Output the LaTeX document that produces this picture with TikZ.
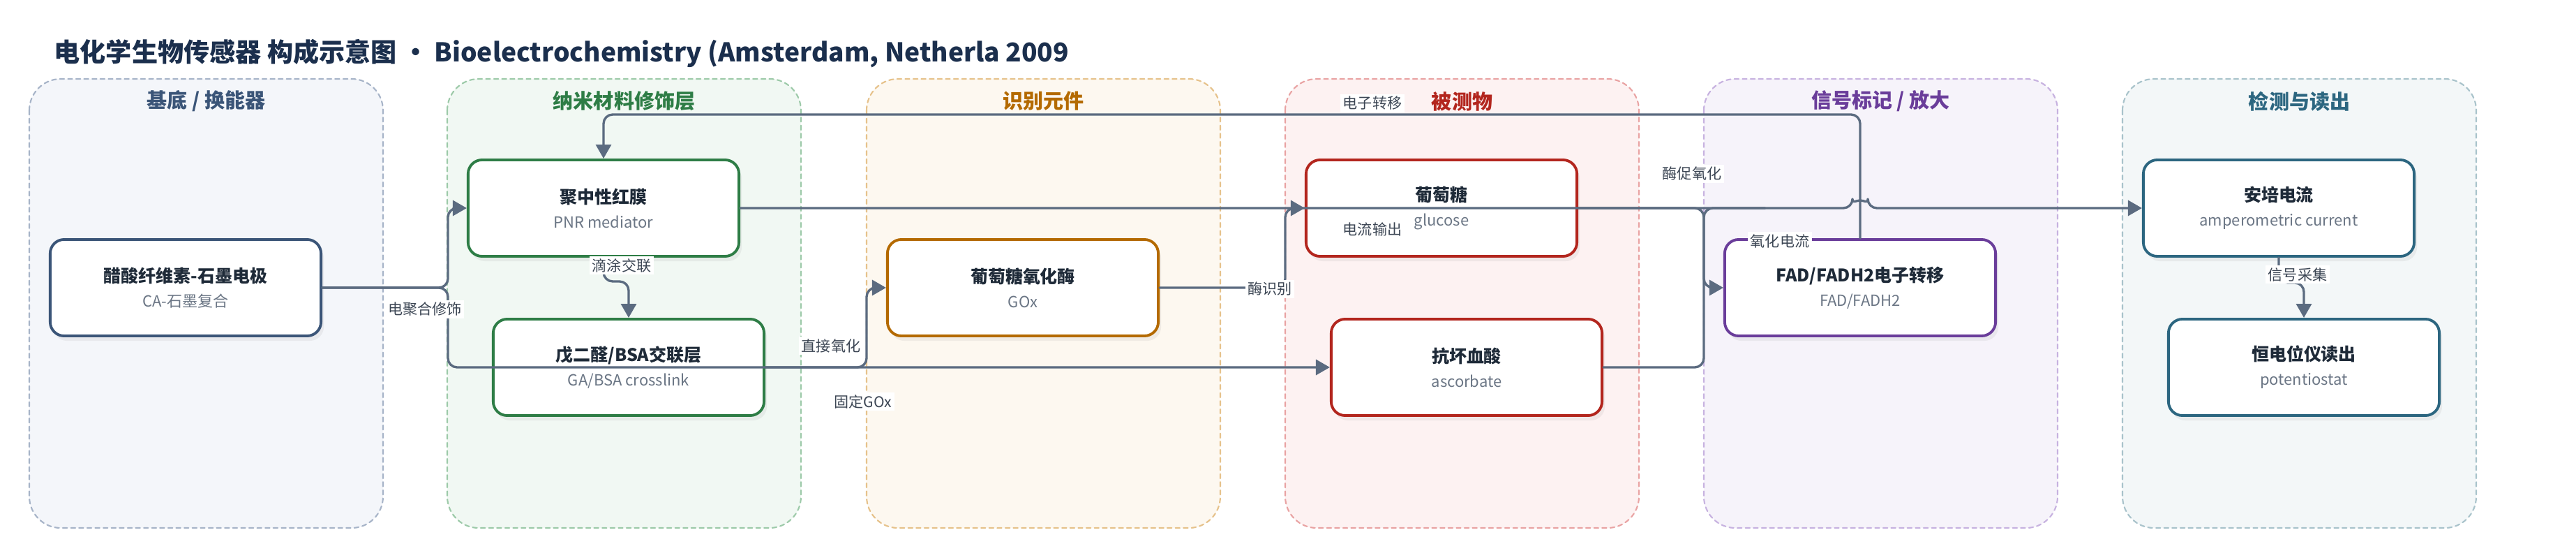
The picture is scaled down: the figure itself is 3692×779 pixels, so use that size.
\documentclass[tikz,border=0pt]{standalone}
\usepackage{fontspec}
\setmainfont{Noto Sans CJK SC}
\usetikzlibrary{arrows.meta,calc,shadows}

\definecolor{flowcol}{HTML}{5B6B80}
\definecolor{inkcol}{HTML}{1E2A38}
\definecolor{subcol}{HTML}{6B7685}
\definecolor{labcol}{HTML}{3C4654}
\definecolor{titlecol}{HTML}{1B2F4D}

\definecolor{baseFill}{HTML}{F4F6FA}\definecolor{baseLine}{HTML}{A7B4C8}\definecolor{baseHead}{HTML}{3B5578}
\definecolor{nanoFill}{HTML}{F1F8F3}\definecolor{nanoLine}{HTML}{9DCAA9}\definecolor{nanoHead}{HTML}{2E7D46}
\definecolor{recFill}{HTML}{FDF8F0}\definecolor{recLine}{HTML}{E6C28B}\definecolor{recHead}{HTML}{B46A00}
\definecolor{anaFill}{HTML}{FDF2F2}\definecolor{anaLine}{HTML}{E9A3A3}\definecolor{anaHead}{HTML}{B3261E}
\definecolor{sigFill}{HTML}{F6F3FA}\definecolor{sigLine}{HTML}{C7B2E0}\definecolor{sigHead}{HTML}{6A3D9A}
\definecolor{detFill}{HTML}{F3F7F8}\definecolor{detLine}{HTML}{A9C3CB}\definecolor{detHead}{HTML}{2C6680}

\newcommand{\duo}[2]{{\fontsize{7.1}{10}\selectfont\bfseries\color{inkcol}#1}\\{\color{subcol}#2}}

\tikzset{
  unit/.style={draw=#1, line width=1.1pt, fill=white, rounded corners=0.2cm,
    minimum width=3.88cm, minimum height=1.38cm, align=center, inner sep=0pt,
    font=\fontsize{6.26}{10}\selectfont,
    drop shadow={opacity=0.10, shadow xshift=0.04cm, shadow yshift=-0.07cm}},
  flow/.style={draw=flowcol, line width=0.95pt, rounded corners=0.13cm,
    -{Triangle[length=0.2cm,width=0.22cm]}},
  tag/.style={fill=white, inner sep=1pt, text=labcol, font=\fontsize{6}{8}\selectfont}
}

\begin{document}
\begin{tikzpicture}[x=0.01cm, y=-0.01cm, line cap=round, line join=round]

% ----------------------------
% CANVAS
% ----------------------------
\useasboundingbox (0,0) rectangle (3692,779);
\fill[white] (0,0) rectangle (3692,779);

\node[anchor=west, inner sep=0pt, text=titlecol, font=\fontsize{10.55}{13}\selectfont\bfseries] (head) at (77,77)
  {电化学生物传感器 构成示意图 • Bioelectrochemistry (Amsterdam, Netherla 2009};

% ----------------------------
% PANELS
% ----------------------------
\foreach \px/\nm/\ttl in {42/base/{基底 / 换能器}, 641/nano/{纳米材料修饰层}, 1242/rec/{识别元件},
                          1842/ana/{被测物}, 2442/sig/{信号标记 / 放大}, 3042/det/{检测与读出}} {
  \draw[draw=\nm Line, fill=\nm Fill, line width=0.6pt, dash pattern=on 1.8pt off 1.5pt,
        rounded corners=0.45cm] (\px,113) rectangle ++(507,643);
  \node[text=\nm Head, font=\fontsize{8.25}{10}\selectfont\bfseries] at (\px+253.5,145) {\ttl};
}

% ----------------------------
% COMPONENTS
% ----------------------------
\node[unit=baseHead] (ca)  at (266,412)  {\duo{醋酸纤维素-石墨电极}{CA-石墨复合}};
\node[unit=nanoHead] (pnr) at (865,298)  {\duo{聚中性红膜}{PNR mediator}};
\node[unit=nanoHead] (ga)  at (901,526)  {\duo{戊二醛/BSA交联层}{GA/BSA crosslink}};
\node[unit=recHead]  (gox) at (1466,412) {\duo{葡萄糖氧化酶}{GOx}};
\node[unit=anaHead]  (glu) at (2066,298) {\duo{葡萄糖}{glucose}};
\node[unit=anaHead]  (asc) at (2102,526) {\duo{抗坏血酸}{ascorbate}};
\node[unit=sigHead]  (fad) at (2666,412) {\duo{FAD/FADH2电子转移}{FAD/FADH2}};
\node[unit=detHead]  (amp) at (3266,298) {\duo{安培电流}{amperometric current}};
\node[unit=detHead]  (pot) at (3302,526) {\duo{恒电位仪读出}{potentiostat}};

% ----------------------------
% CONNECTORS
% ----------------------------
\coordinate (split) at (642,412);
\coordinate (merge) at (2442,298);

\draw[flow] (ca.east) -- (split) |- (pnr.west);
\draw[flow] (ca.east) -- (split) |- (asc.west);
\draw[flow] (pnr.south) -- (865,403) -| (ga.north);
\draw[flow] (ga.east) -- (1242,526) |- (gox.west);
\draw[flow] (gox.east) -- (1842,412) |- (glu.west);

% current line with a hop over the FAD riser
\draw[flow] (pnr.east) -- (2655,298) arc[start angle=180, end angle=0, radius=0.11cm] -- (amp.west);
\draw[flow] (fad.north) -- (2666,164) -| (pnr.north);
\draw[flow] (glu.east) -- (merge) |- (fad.west);
\draw[flow,-] (asc.east) -- (2442,526) -- (merge) -- (2530,298);
\draw[flow] (amp.south) -- (3266,405) -| (pot.north);

% ----------------------------
% CONNECTOR LABELS
% ----------------------------
\node[tag] (t1)  at (609,443)  {电聚合修饰};
\node[tag] (t2)  at (1237,575) {固定GOx};
\node[tag] (t3)  at (891,380)  {滴涂交联};
\node[tag] (t4)  at (1191,495) {直接氧化};
\node[tag] (t5)  at (1820,414) {酶识别};
\node[tag] (t6)  at (1967,328) {电流输出};
\node[tag] (t7)  at (1967,148) {电子转移};
\node[tag] (t8)  at (2425,249) {酶促氧化};
\node[tag] (t9)  at (2551,345) {氧化电流};
\node[tag] (t10) at (3293,393) {信号采集};

\end{tikzpicture}
\end{document}
